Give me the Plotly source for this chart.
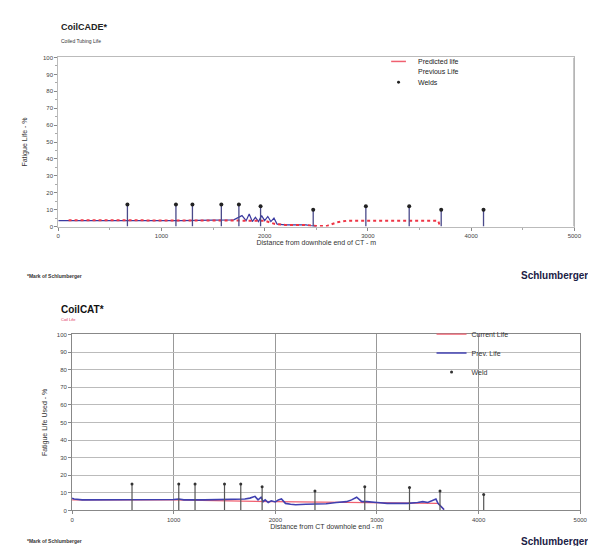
import plotly.graph_objects as go

# ---------------- data ----------------
# Top chart (CoilCADE)
top_pred_x = [100, 500, 1000, 1500, 1800, 2000, 2100, 2200, 2400, 2500, 2600, 2650, 2700, 2750, 2800, 3000, 3200, 3400, 3600, 3680, 3700]
top_pred_y = [3.8, 3.8, 3.8, 3.8, 3.8, 3.5, 1.5, 1.0, 1.0, 0.3, 0.3, 1.5, 2.5, 3.0, 3.5, 3.5, 3.5, 3.5, 3.5, 3.5, 0.0]
top_prev_x = [0, 300, 600, 900, 1200, 1500, 1700, 1780, 1820, 1850, 1880, 1910, 1940, 1970, 2000, 2030, 2060, 2090, 2120, 2200, 2300, 2400, 2450, 2500]
top_prev_y = [3.5, 3.5, 3.3, 3.5, 3.5, 3.8, 4.0, 6.5, 3.5, 7.5, 3.0, 5.5, 3.0, 6.5, 3.5, 6.0, 3.0, 5.0, 1.5, 1.0, 1.0, 1.0, 0.5, 0.0]
top_weld_x = [670, 1140, 1300, 1580, 1750, 1960, 2470, 2980, 3400, 3710, 4120]
top_weld_y = [13, 13, 13, 13, 13, 12, 10, 12, 12, 10, 10]

# Bottom chart (CoilCAT)
bot_prev_x = [0, 20, 100, 300, 500, 700, 900, 1000, 1050, 1100, 1300, 1500, 1600, 1700, 1750, 1800, 1830, 1860, 1880,
              1900, 1930, 1960, 2000, 2030, 2060, 2100, 2150, 2200, 2300, 2400, 2500, 2600, 2700, 2750, 2800, 2850,
              2900, 3000, 3100, 3200, 3300, 3400, 3450, 3500, 3550, 3580, 3600, 3630, 3660]
bot_prev_y = [7.0, 6.5, 6.0, 6.0, 5.8, 6.0, 6.0, 6.2, 6.5, 6.0, 6.0, 6.2, 6.5, 6.5, 7.0, 8.0, 6.0, 7.5, 5.0,
              6.0, 4.5, 5.5, 4.8, 6.0, 6.5, 4.0, 3.5, 3.2, 3.5, 3.5, 3.8, 4.5, 5.0, 6.0, 7.5, 5.0,
              5.0, 4.5, 4.0, 4.0, 4.0, 4.5, 5.0, 4.5, 5.5, 6.5, 4.0, 2.0, 0.5]
bot_cur_x = [0, 1000, 2000, 3000, 3600, 3660]
bot_cur_y = [6.0, 6.0, 5.0, 4.5, 4.0, 0.5]
bot_weld_x = [590, 1050, 1210, 1500, 1660, 1870, 2390, 2880, 3320, 3620, 4050]
bot_weld_y = [15, 15, 15, 15, 15, 13.5, 11, 13.5, 13, 11, 9]

x_ticks = [0, 1000, 2000, 3000, 4000, 5000]
y_ticks = [0, 10, 20, 30, 40, 50, 60, 70, 80, 90, 100]

FONT = "Liberation Sans, Arial, sans-serif"


def stems(xs, ys):
    sx, sy = [], []
    for x, y in zip(xs, ys):
        sx += [x, x, None]
        sy += [0, y, None]
    return sx, sy


fig = go.Figure()

# ---- top chart traces ----
fig.add_trace(go.Scatter(x=top_prev_x, y=top_prev_y, mode="lines", name="Previous Life",
                         line=dict(color="#3a3aa0", width=1.2), xaxis="x", yaxis="y", showlegend=False))
fig.add_trace(go.Scatter(x=top_pred_x, y=top_pred_y, mode="lines", name="Predicted life",
                         line=dict(color="#ee3545", width=2, dash="dot"),
                         xaxis="x", yaxis="y", showlegend=False))
sx, sy = stems(top_weld_x, top_weld_y)
fig.add_trace(go.Scatter(x=sx, y=sy, mode="lines", line=dict(color="#4a4a8a", width=1.3),
                         xaxis="x", yaxis="y", showlegend=False, hoverinfo="skip"))
fig.add_trace(go.Scatter(x=top_weld_x, y=top_weld_y, mode="markers", name="Welds",
                         marker=dict(symbol="circle", size=4, color="#222"),
                         xaxis="x", yaxis="y", showlegend=False))

# ---- bottom chart traces ----
fig.add_trace(go.Scatter(x=bot_cur_x, y=bot_cur_y, mode="lines", name="Current Life",
                         line=dict(color="#f06070", width=1.2), xaxis="x2", yaxis="y2", legend="legend"))
fig.add_trace(go.Scatter(x=bot_prev_x, y=bot_prev_y, mode="lines", name="Prev. Life",
                         line=dict(color="#4040b0", width=1.6), xaxis="x2", yaxis="y2", legend="legend"))
sx, sy = stems(bot_weld_x, bot_weld_y)
fig.add_trace(go.Scatter(x=sx, y=sy, mode="lines", line=dict(color="#555", width=1.2),
                         xaxis="x2", yaxis="y2", showlegend=False, hoverinfo="skip"))
fig.add_trace(go.Scatter(x=bot_weld_x, y=bot_weld_y, mode="markers", name="Weld",
                         marker=dict(symbol="circle", size=3, color="#333"),
                         xaxis="x2", yaxis="y2", legend="legend"))

W, H = 596, 546


def px(x):
    return x / W


def py(y):
    return 1 - y / H


axis_common = dict(ticks="outside", ticklen=3, tickcolor="#888", showline=True, mirror=True,
                   zeroline=False, tickfont=dict(size=6, color="#444", family=FONT))

fig.update_layout(
    width=W, height=H,
    margin=dict(l=0, r=0, t=0, b=0),
    paper_bgcolor="white", plot_bgcolor="white",
    font=dict(family=FONT, color="#222"),
    xaxis=dict(domain=[px(49), px(573)], range=[0, 5000], tickvals=x_ticks, anchor="y",
               linecolor="#bbb", showgrid=False,
               minor=dict(ticks="outside", ticklen=2, dtick=500, tickcolor="#aaa"),
               title=dict(text="Distance from downhole end of CT - m", font=dict(size=7, color="#333"), standoff=2),
               **axis_common),
    yaxis=dict(domain=[py(218), py(47)], range=[0, 100], tickvals=y_ticks, anchor="x",
               linecolor="#bbb", showgrid=False,
               minor=dict(ticks="outside", ticklen=2, dtick=5, tickcolor="#aaa"),
               title=dict(text="Fatigue Life - %", font=dict(size=7, color="#333"), standoff=14),
               **axis_common),
    xaxis2=dict(domain=[px(63), px(579)], range=[0, 5000], tickvals=x_ticks, anchor="y2",
                linecolor="#888", showgrid=True, gridcolor="#999", gridwidth=1,
                title=dict(text="Distance from CT downhole end - m", font=dict(size=7, color="#333"), standoff=2),
                **axis_common),
    yaxis2=dict(domain=[py(505), py(327)], range=[0, 100], tickvals=y_ticks, anchor="x2",
                linecolor="#888", showgrid=True, gridcolor="#bbb", gridwidth=1,
                title=dict(text="Fatigue Life Used - %", font=dict(size=7, color="#333"), standoff=8),
                **axis_common),
    legend=dict(x=px(428), y=py(312), xanchor="left", yanchor="top", bgcolor="rgba(0,0,0,0)",
                font=dict(size=7, color="#333", family=FONT), itemwidth=30, tracegroupgap=0),
    showlegend=True,
)

# right thick edge line on top chart
fig.add_shape(type="line", xref="x", yref="y", x0=5000, x1=5000, y0=0, y1=100,
              line=dict(color="#aaa", width=2))

# manual legend for top chart (compact rows)
leg_rows = [("Predicted life", "line", "#f06070"), ("Previous Life", "none", None), ("Welds", "dot", "#222")]
for i, (txt, kind, col) in enumerate(leg_rows):
    yy = 51 + i * 10.5
    if kind == "line":
        fig.add_shape(type="line", xref="paper", yref="paper", x0=px(387), x1=px(402), y0=py(yy), y1=py(yy),
                      line=dict(color=col, width=1.5))
    elif kind == "dot":
        fig.add_shape(type="circle", xref="paper", yref="paper", x0=px(393), x1=px(396), y0=py(yy - 1.5),
                      y1=py(yy + 1.5), fillcolor=col, line=dict(color=col, width=0))
    fig.add_annotation(x=px(412), y=py(yy), xref="paper", yref="paper", text=txt, showarrow=False,
                       xanchor="left", yanchor="middle", font=dict(size=7, color="#222", family=FONT))

# titles and footnotes
texts = [
    (50, 16, "<b>CoilCADE*</b>", 9, "#222"),
    (50, 30, "Coiled Tubing Life", 5, "#333"),
    (15, 268, "<b>*Mark of Schlumberger</b>", 5, "#333"),
    (50, 302, "<b>CoilCAT*</b>", 10, "#111"),
    (50, 312, "Coil Life", 4, "#e0305a"),
    (15, 536, "<b>*Mark of Schlumberger</b>", 5, "#333"),
]
for x, y, t, s, c in texts:
    fig.add_annotation(x=px(x), y=py(y), xref="paper", yref="paper", text=t, showarrow=False,
                       xanchor="left", yanchor="middle", font=dict(size=s, color=c, family=FONT))
for y in (267, 536):
    fig.add_annotation(x=px(589), y=py(y), xref="paper", yref="paper", text="<b>Schlumberger</b>",
                       showarrow=False, xanchor="right", yanchor="middle",
                       font=dict(size=10, color="#1a2045", family=FONT))

fig.write_html("out.html")
